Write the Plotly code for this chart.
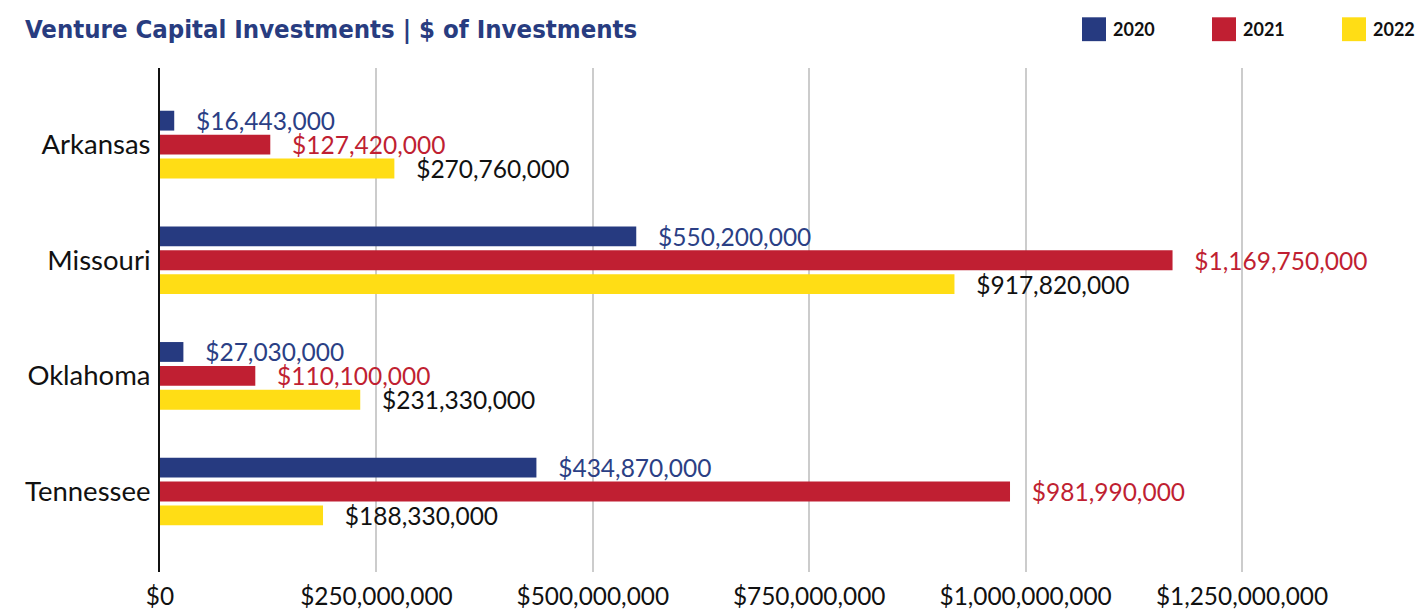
import plotly.graph_objects as go

states = ["Arkansas", "Missouri", "Oklahoma", "Tennessee"]
years = ["2020", "2021", "2022"]
v2020 = [16443000, 550200000, 27030000, 434870000]
v2021 = [127420000, 1169750000, 110100000, 981990000]
v2022 = [270760000, 917820000, 231330000, 188330000]
series = [v2020, v2021, v2022]
tick_vals = [0, 250000000, 500000000, 750000000, 1000000000, 1250000000]
tick_text = ["$0", "$250,000,000", "$500,000,000", "$750,000,000", "$1,000,000,000", "$1,250,000,000"]

colors = ["#263a80", "#c01f32", "#ffdd15"]
text_colors = ["#2b3f85", "#c01f32", "#111111"]

W, H = 1418, 610
ml, mr, mt, mb = 160, 0, 68, 35

fig = go.Figure()
for name, vals, c, tc in zip(years, series, colors, text_colors):
    fig.add_trace(go.Bar(
        y=states, x=vals, name=name, orientation="h",
        marker=dict(color=c, line=dict(width=0)),
        text=["\u00a0\u00a0\u00a0" + "${:,.0f}".format(v) for v in vals],
        textposition="outside", cliponaxis=False, constraintext="none",
        textfont=dict(family="Lato", size=24.5, color=tc),
        showlegend=False,
    ))

# custom legend
pw = W - ml - mr
ph = H - mt - mb
def px2x(p):
    return (p - ml) / pw
def py2y(p):
    return (H - mb - p) / ph

shapes = []
annotations = []
leg_x = [1082, 1212, 1342]
for lx, name, c in zip(leg_x, years, colors):
    shapes.append(dict(type="rect", xref="paper", yref="paper",
                       x0=px2x(lx), x1=px2x(lx + 24), y0=py2y(41), y1=py2y(17),
                       fillcolor=c, line=dict(width=0)))
    annotations.append(dict(xref="paper", yref="paper", x=px2x(lx + 29), y=py2y(29),
                            text="<b>" + name + "</b>", showarrow=False, xanchor="left", yanchor="middle",
                            font=dict(family="Lato", size=18, color="#111111")))

fig.update_layout(
    width=W, height=H,
    margin=dict(l=ml, r=mr, t=mt, b=mb),
    paper_bgcolor="white", plot_bgcolor="white",
    barmode="group", bargap=0.38, bargroupgap=0.17,
    title=dict(text="<b>Venture Capital Investments | $ of Investments</b>",
               x=25 / W, xanchor="left", y=1 - 29 / H, yanchor="middle",
               font=dict(family="Liberation Sans Narrow, DejaVu Sans Condensed, Arial Narrow, sans-serif",
                         size=25.5, color="#283c80")),
    shapes=shapes, annotations=annotations,
    xaxis=dict(range=[0, pw / 216.4 * 250000000], tickvals=tick_vals, ticktext=tick_text,
               showgrid=True, gridcolor="#cccccc", gridwidth=2, zeroline=False,
               showline=False, ticks="", ticklabelstandoff=8,
               tickfont=dict(family="Lato", size=24.4, color="#111111")),
    yaxis=dict(categoryorder="array", categoryarray=states,
               range=[3.696, -0.662], showline=True, linecolor="#111111", linewidth=2,
               showgrid=False, zeroline=False, ticks="", ticklabelstandoff=2,
               tickfont=dict(family="Lato", size=27.5, color="#111111")),
)

fig.write_html("out.html", config={"displayModeBar": False},
               post_script="document.body.style.margin='0';document.body.style.overflow='hidden';")
